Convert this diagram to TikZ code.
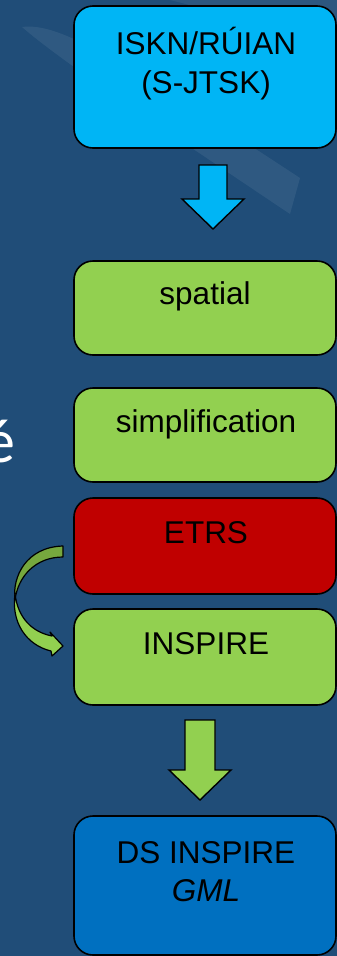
\documentclass[tikz,border=0pt]{standalone}
\usepackage{fontspec}
\setmainfont{Liberation Sans}
\newfontfamily\calibfont{Carlito}
\usetikzlibrary{calc}
\definecolor{bgblue}{HTML}{204D78}
\definecolor{skyb}{HTML}{00B5F5}
\definecolor{lgreen}{HTML}{92D050}
\definecolor{dgreen}{HTML}{76A83E}
\definecolor{dred}{HTML}{C00000}
\definecolor{mblue}{HTML}{0070C0}
\begin{document}
\begin{tikzpicture}[x=1pt,y=-1pt,
  box/.style={draw=black, line width=1.6pt, rounded corners=19pt, minimum width=262pt, minimum height=#1, inner sep=0pt},
  lbl/.style={anchor=base, font=\fontsize{31.5}{38}\selectfont, inner sep=0pt, text=black},
  blockarrow/.style={draw=black, line width=1.4pt, line join=miter},
  curvearrow/.style={draw=black, line width=1.2pt, line join=round}]
\useasboundingbox (0,0) rectangle (337,956);
\begin{scope}
\clip (0,0) rectangle (337,956);
\fill[bgblue] (0,0) rectangle (337,956);
% faint background streaks
\fill[white, opacity=0.07] (22,27) .. controls (60,22) and (120,60) .. (300,178) -- (290,214) .. controls (150,120) and (60,60) .. (22,27) -- cycle;
\fill[white, opacity=0.06] (170,0) -- (337,0) -- (337,60) .. controls (290,35) and (230,15) .. (170,0) -- cycle;
% cut-off letter at the left edge
\node[anchor=base west, inner sep=0pt, text=white, font=\calibfont\fontsize{62}{70}\selectfont] (ecut) at (-16,462) {é};

% boxes
\node[box=142pt, fill=skyb]   (iskn)    at (205,77)    {};
\node[box=94pt,  fill=lgreen] (spatial) at (205,308)   {};
\node[box=94pt,  fill=lgreen] (simpl)   at (205,435)   {};
\node[box=96pt,  fill=dred]   (etrs)    at (205,546)   {};
\node[box=96pt,  fill=lgreen] (inspire) at (205,657)   {};
\node[box=139pt, fill=mblue]  (ds)      at (205,885.5) {};

% labels
\node[lbl] (t1a) at ($(iskn.north)+(1,49)$)    {ISKN/RÚIAN};
\node[lbl] (t1b) at ($(iskn.north)+(1,88)$)    {(S-JTSK)};
\node[lbl] (t2)  at ($(spatial.north)+(0,44)$) {spatial};
\node[lbl] (t3)  at ($(simpl.north)+(1,45)$)   {simplification};
\node[lbl] (t4)  at ($(etrs.north)+(1,46)$)    {ETRS};
\node[lbl] (t5)  at ($(inspire.north)+(1,46)$) {INSPIRE};
\node[lbl] (t6a) at ($(ds.north)+(1,48)$)      {DS INSPIRE};
\node[lbl] (t6b) at ($(ds.north)+(1,86)$)      {\itshape GML};

% block arrows
\draw[blockarrow, fill=skyb] (199,165) -- (227,165) -- (227,199) -- (244,199) -- (213,229) -- (182,199) -- (199,199) -- cycle;
\draw[blockarrow, fill=lgreen] (185,720) -- (215,720) -- (215,770) -- (231,770) -- (200,800) -- (169,770) -- (185,770) -- cycle;

% curved arrow from ETRS to INSPIRE
\draw[curvearrow, fill=dgreen] (63,546) -- (63,557) .. controls (36,557) and (18,576) .. (15,600)
   .. controls (12,577) and (26,547) .. (63,546) -- cycle;
\draw[curvearrow, fill=lgreen] (15,594) .. controls (18,618) and (32,632) .. (52,636)
   -- (50,632) -- (63,646) -- (52,656) -- (51,651)
   .. controls (26,645) and (11,622) .. (15,594) -- cycle;
\end{scope}
\end{tikzpicture}
\end{document}
